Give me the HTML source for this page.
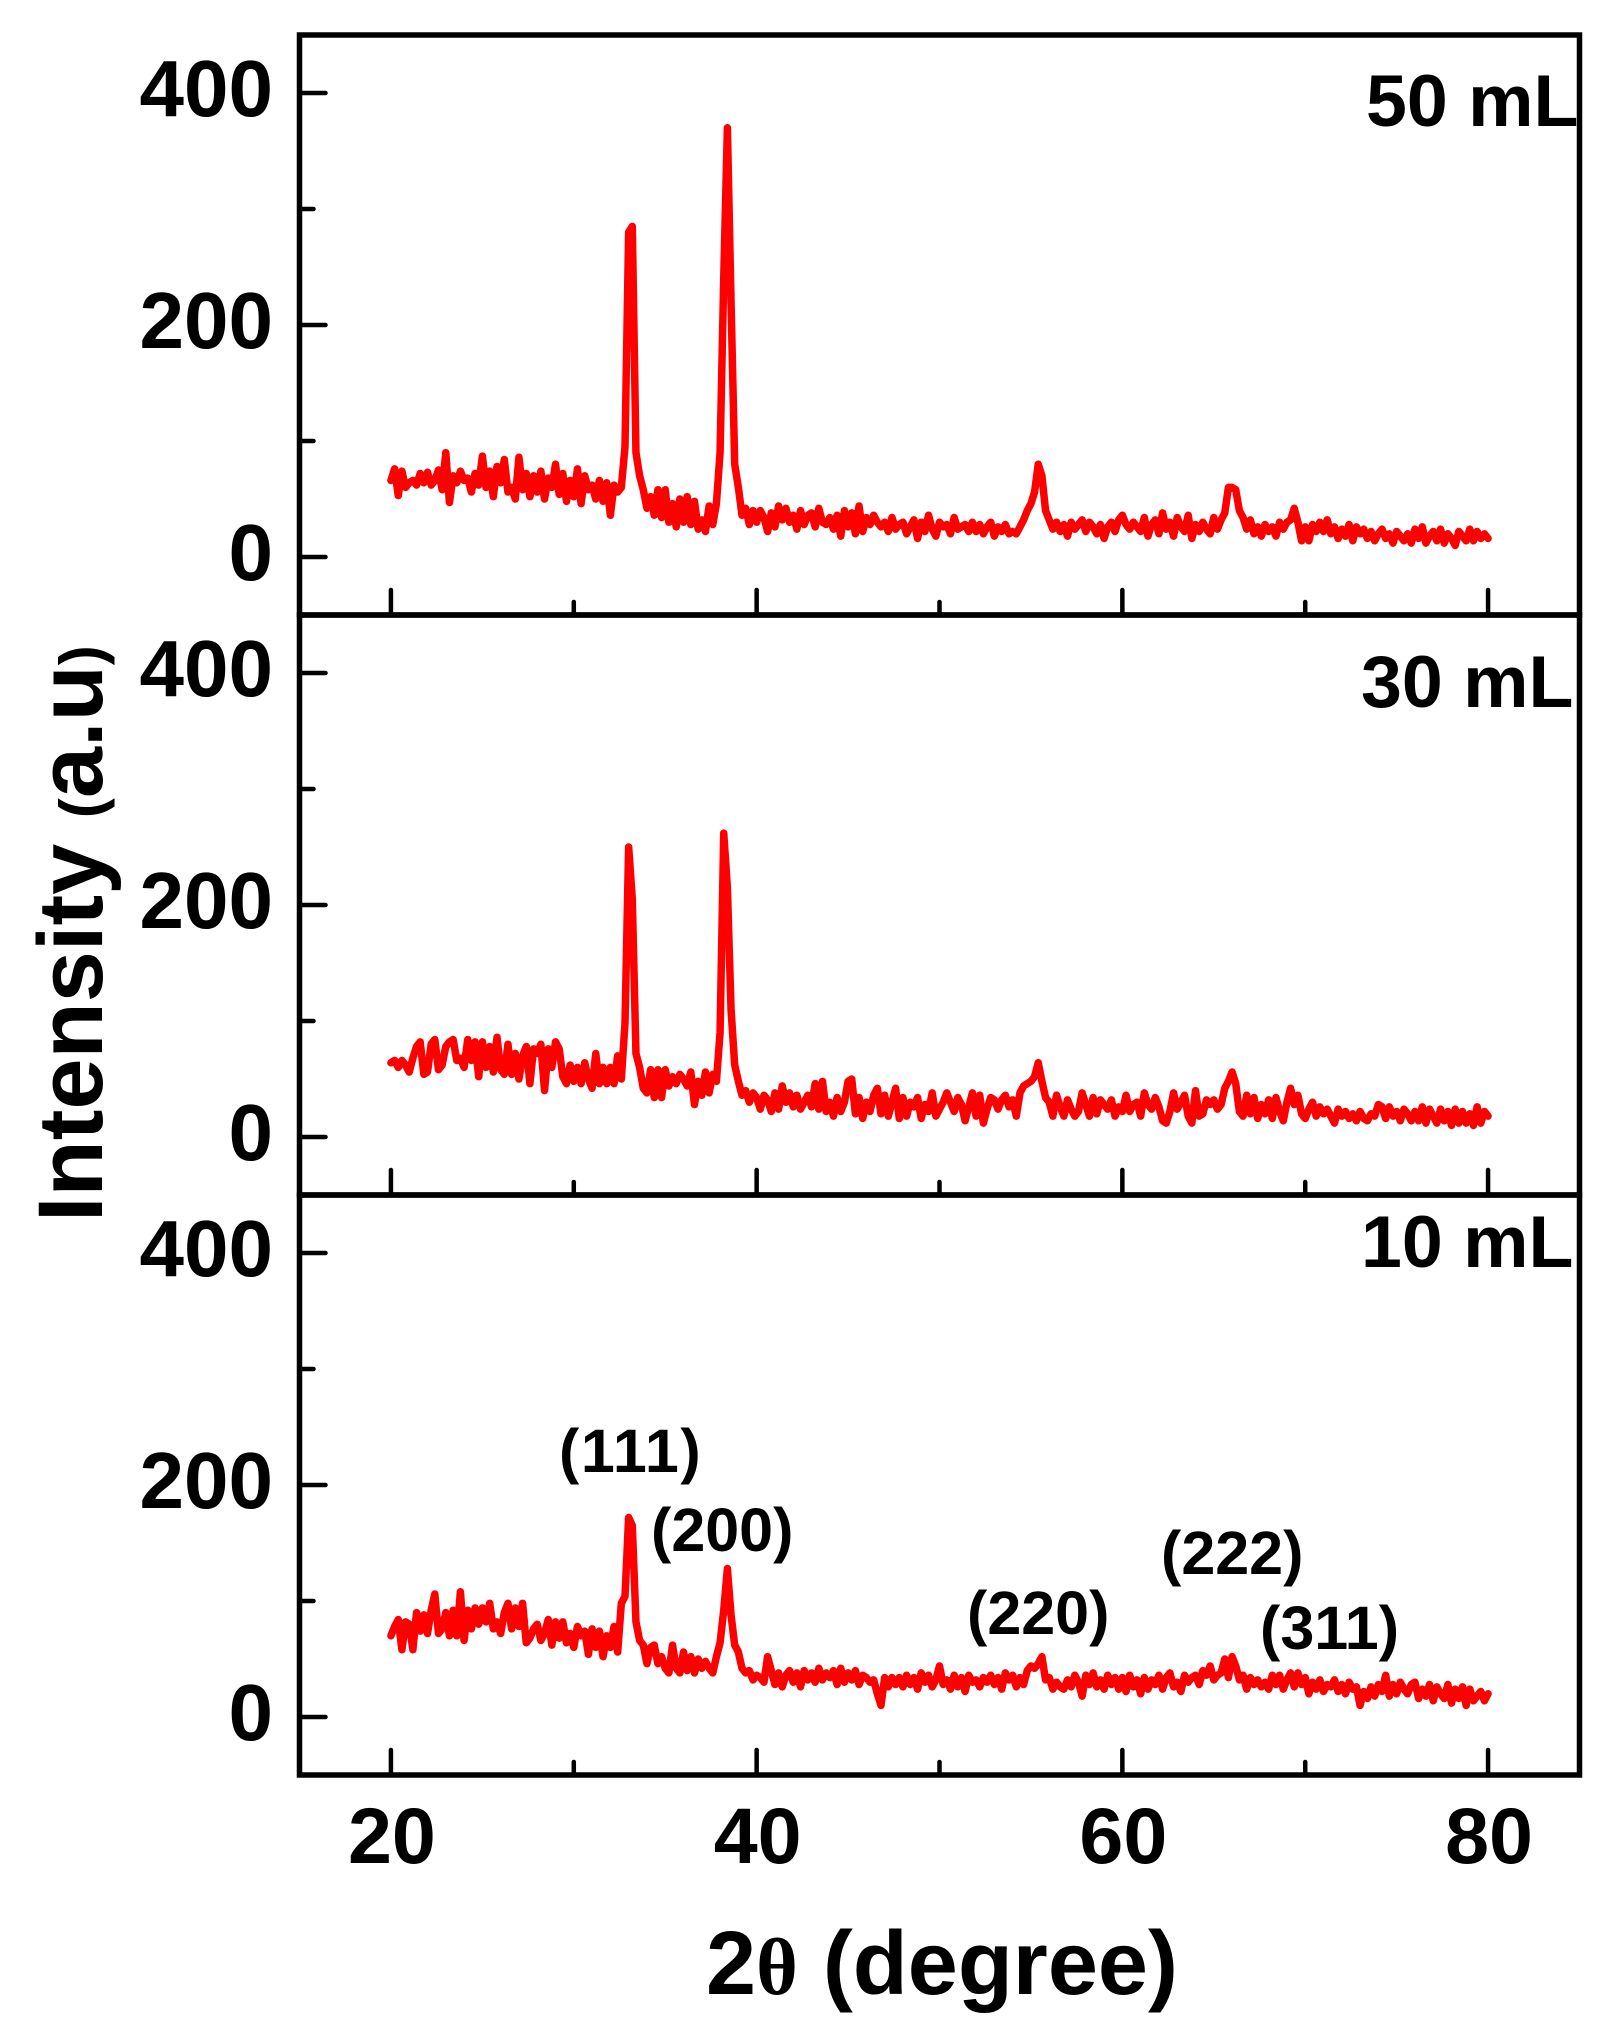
<!DOCTYPE html>
<html lang="en">
<head>
<meta charset="utf-8">
<title>XRD patterns</title>
<style>
html,body{margin:0;padding:0;background:#fff;}
svg{display:block;}
text{font-family:"Liberation Sans",sans-serif;font-weight:bold;fill:#000;}
</style>
</head>
<body>
<svg id="chart" xmlns="http://www.w3.org/2000/svg" width="1611" height="2037" viewBox="0 0 1611 2037">
<rect x="0" y="0" width="1611" height="2037" fill="#fff"/>
<g id="marks"></g>
<g id="axes"></g>
<text x="1366" y="126" font-size="73.5">50 mL</text>
<text x="1361" y="707" font-size="73.5">30 mL</text>
<text x="1361" y="1267" font-size="73.5">10 mL</text>
<text x="559" y="1472" font-size="61" letter-spacing="1.5">(111)</text>
<text x="651" y="1551" font-size="61">(200)</text>
<text x="967" y="1634" font-size="61">(220)</text>
<text x="1161" y="1574" font-size="61">(222)</text>
<text x="1260" y="1649" font-size="61">(311)</text>
<text transform="translate(102,1222) rotate(-90)" font-size="92">Intensity <tspan font-size="60">(</tspan>a.u<tspan font-size="60">)</tspan></text>
<text x="706" y="1994" font-size="90">2<tspan font-family="Liberation Serif" font-weight="bold" font-size="80">θ</tspan> (degree)</text>
</svg>
<script>
// Diffraction angle (degrees) shared by all three scans
const twoTheta = [
20.0,20.2,20.4,20.6,20.8,21.0,21.2,21.4,21.6,21.8,22.0,22.2,22.4,22.6,22.8,23.0,23.2,23.4,23.6,23.8,
24.0,24.2,24.4,24.6,24.8,25.0,25.2,25.4,25.6,25.8,26.0,26.2,26.4,26.6,26.8,27.0,27.2,27.4,27.6,27.8,
28.0,28.2,28.4,28.6,28.8,29.0,29.2,29.4,29.6,29.8,30.0,30.2,30.4,30.6,30.8,31.0,31.2,31.4,31.6,31.8,
32.0,32.2,32.4,32.6,32.8,33.0,33.2,33.4,33.6,33.8,34.0,34.2,34.4,34.6,34.8,35.0,35.2,35.4,35.6,35.8,
36.0,36.2,36.4,36.6,36.8,37.0,37.2,37.4,37.6,37.8,38.0,38.2,38.4,38.6,38.8,39.0,39.2,39.4,39.6,39.8,
40.0,40.2,40.4,40.6,40.8,41.0,41.2,41.4,41.6,41.8,42.0,42.2,42.4,42.6,42.8,43.0,43.2,43.4,43.6,43.8,
44.0,44.2,44.4,44.6,44.8,45.0,45.2,45.4,45.6,45.8,46.0,46.2,46.4,46.6,46.8,47.0,47.2,47.4,47.6,47.8,
48.0,48.2,48.4,48.6,48.8,49.0,49.2,49.4,49.6,49.8,50.0,50.2,50.4,50.6,50.8,51.0,51.2,51.4,51.6,51.8,
52.0,52.2,52.4,52.6,52.8,53.0,53.2,53.4,53.6,53.8,54.0,54.2,54.4,54.6,54.8,55.0,55.2,55.4,55.6,55.8,
56.0,56.2,56.4,56.6,56.8,57.0,57.2,57.4,57.6,57.8,58.0,58.2,58.4,58.6,58.8,59.0,59.2,59.4,59.6,59.8,
60.0,60.2,60.4,60.6,60.8,61.0,61.2,61.4,61.6,61.8,62.0,62.2,62.4,62.6,62.8,63.0,63.2,63.4,63.6,63.8,
64.0,64.2,64.4,64.6,64.8,65.0,65.2,65.4,65.6,65.8,66.0,66.2,66.4,66.6,66.8,67.0,67.2,67.4,67.6,67.8,
68.0,68.2,68.4,68.6,68.8,69.0,69.2,69.4,69.6,69.8,70.0,70.2,70.4,70.6,70.8,71.0,71.2,71.4,71.6,71.8,
72.0,72.2,72.4,72.6,72.8,73.0,73.2,73.4,73.6,73.8,74.0,74.2,74.4,74.6,74.8,75.0,75.2,75.4,75.6,75.8,
76.0,76.2,76.4,76.6,76.8,77.0,77.2,77.4,77.6,77.8,78.0,78.2,78.4,78.6,78.8,79.0,79.2,79.4,79.6,79.8,
80.0];

const intensity50mL = [
66,76,53,74,60,64,66,62,72,64,73,62,66,75,58,90,47,70,64,74,
66,68,56,72,62,87,60,74,52,78,64,84,56,60,50,86,58,72,52,70,
56,74,50,68,60,80,54,72,48,66,52,76,46,70,58,62,50,66,48,64,
36,62,56,60,95,280,285,90,70,58,42,52,36,58,34,58,30,46,26,50,
30,52,28,48,24,32,22,44,28,46,90,240,370,220,80,60,36,42,28,40,
30,40,34,22,38,26,44,32,42,30,36,24,40,28,36,38,26,42,30,28,
34,24,36,18,40,26,38,20,44,22,34,28,36,30,26,30,22,34,24,28,
30,20,26,32,16,30,22,36,24,18,30,26,28,20,34,24,26,28,22,30,
22,28,20,26,30,18,26,22,28,20,22,20,26,32,40,46,56,80,70,40,
32,24,30,22,28,18,30,24,28,32,22,30,26,20,28,16,26,30,22,32,
36,28,24,30,26,22,34,18,28,32,20,38,24,30,18,34,26,22,36,16,
28,22,30,24,20,34,24,32,38,60,60,58,40,34,24,32,20,26,18,28,
22,26,18,30,24,30,32,42,30,14,26,14,28,22,30,22,32,20,26,16,
24,18,28,14,26,20,24,16,22,14,20,24,16,20,12,22,18,14,20,12,
24,16,26,12,18,22,14,24,12,20,16,10,22,18,14,24,14,22,16,20,
16];

const intensity30mL = [
64,66,60,66,62,56,68,78,82,54,56,80,84,58,62,78,82,84,66,68,
60,84,66,82,52,82,60,78,56,86,58,54,80,54,72,50,70,78,46,76,
72,80,40,76,60,82,76,52,46,62,48,60,46,64,50,42,72,46,60,46,
60,46,70,50,98,250,205,72,60,42,38,58,34,58,34,58,44,52,46,54,
50,44,56,28,48,36,56,38,54,48,90,262,215,110,62,48,36,40,30,38,
34,24,36,32,22,38,24,44,30,38,26,36,24,30,36,26,46,24,48,22,
30,18,34,22,30,48,50,20,34,16,30,22,36,42,20,36,18,30,42,16,
34,18,30,26,34,16,28,22,38,18,24,30,38,30,22,34,28,14,26,38,
18,36,12,24,34,32,24,32,36,26,32,18,38,44,46,48,52,64,48,34,
30,18,36,26,18,32,24,18,22,38,28,18,34,20,32,28,24,32,18,26,
22,36,22,28,30,18,38,28,24,34,26,14,12,22,38,24,30,36,18,12,
40,18,20,32,28,32,24,28,42,48,56,46,22,18,36,20,34,16,28,20,
32,16,34,22,14,30,42,28,36,20,16,24,30,18,26,20,24,18,12,24,
18,22,16,20,14,22,16,14,20,18,28,26,16,26,18,22,14,24,20,14,
22,14,26,12,24,18,12,24,14,22,10,24,12,22,12,20,10,26,12,22,
18];

const intensity10mL = [
70,78,84,58,82,80,58,90,74,88,72,92,106,72,76,90,70,92,70,108,
66,92,76,94,80,94,82,98,76,82,72,90,98,76,94,78,98,64,68,76,
80,66,72,84,62,82,68,82,64,72,60,78,70,74,54,76,60,74,52,70,
60,78,56,98,104,172,165,82,66,62,46,60,62,46,52,42,38,62,42,38,
56,40,52,38,50,42,48,42,38,52,64,92,128,88,62,56,42,38,40,32,
36,34,30,52,40,28,38,26,36,40,30,38,26,40,32,38,30,42,32,38,
34,40,28,42,30,38,32,40,28,36,34,30,32,20,10,34,26,34,28,34,
26,36,28,34,24,38,30,36,26,32,44,28,32,24,36,26,34,22,36,30,
32,26,34,30,36,28,34,24,38,32,36,26,34,28,40,44,42,46,52,32,
34,24,30,26,24,32,26,36,30,18,36,28,38,26,32,24,36,28,34,24,
34,22,36,26,32,20,34,24,32,28,36,24,34,38,26,30,22,36,30,34,
36,28,40,36,44,32,36,38,50,34,52,44,32,36,24,34,28,32,26,30,
24,36,28,36,24,32,38,26,38,28,34,20,30,24,32,22,28,26,32,22,
28,20,30,24,26,10,22,16,26,18,28,22,36,18,28,20,30,24,20,28,
30,16,24,18,28,14,26,20,16,28,12,24,16,26,10,24,14,18,22,14,
20];

const yTickValues = [0, 100, 200, 300, 400];
const yTickLabels = ["0", "", "200", "", "400"];
const xTickValues = [20, 30, 40, 50, 60, 70, 80];
const xTickLabels = ["20", "", "40", "", "60", "", "80"];

const NS = "http://www.w3.org/2000/svg";
const plotLeft = 299.5, plotRight = 1579.5, plotTop = 35, panelHeight = 580;
const xMin = 15, xMax = 85, yMin = -50, yMax = 450;

function xScale(v) { return plotLeft + (v - xMin) / (xMax - xMin) * (plotRight - plotLeft); }
function yScale(panelIndex, v) {
  const bottom = plotTop + panelHeight * (panelIndex + 1);
  return bottom - (v - yMin) / (yMax - yMin) * panelHeight;
}
function make(tag, attrs, parent) {
  const el = document.createElementNS(NS, tag);
  for (const k in attrs) el.setAttribute(k, attrs[k]);
  parent.appendChild(el);
  return el;
}

const axesGroup = document.getElementById("axes");
const marksGroup = document.getElementById("marks");

// Series
function drawSeries(panelIndex, values, name) {
  let d = "";
  for (let i = 0; i < values.length; i++) {
    d += (i ? "L" : "M") + xScale(twoTheta[i]).toFixed(2) + " " + yScale(panelIndex, values[i]).toFixed(2);
  }
  const line = make("path", {d: d, fill: "none", stroke: "#ff0000", "stroke-width": 7.5, "stroke-linejoin": "round", "stroke-linecap": "round"}, marksGroup);
  
  
}
drawSeries(0, intensity50mL, "series-50ml");
drawSeries(1, intensity30mL, "series-30ml");
drawSeries(2, intensity10mL, "series-10ml");

// Panel frames
for (let p = 0; p < 3; p++) {
  const frame = make("rect", {x: plotLeft, y: plotTop + p * panelHeight, width: plotRight - plotLeft, height: panelHeight, fill: "none", stroke: "#000", "stroke-width": 5.5}, axesGroup);
  
  

  // Y ticks
  yTickValues.forEach(function (v, i) {
    const y = yScale(p, v);
    const major = yTickLabels[i] !== "";
    const tick = make("line", {x1: plotLeft, x2: plotLeft + (major ? 26 : 14), y1: y, y2: y, stroke: "#000", "stroke-width": 4.5, "stroke-linecap": "round"}, axesGroup);
    
    
    if (major) {
      const label = make("text", {x: 273, y: y + 23, "font-size": 80, "text-anchor": "end"}, axesGroup);
      label.textContent = yTickLabels[i];
      
      
    }
  });

  // X ticks
  const panelBottom = plotTop + (p + 1) * panelHeight;
  xTickValues.forEach(function (v, i) {
    const x = xScale(v);
    const major = xTickLabels[i] !== "";
    const tick = make("line", {x1: x, x2: x, y1: panelBottom, y2: panelBottom - (major ? 25 : 13), stroke: "#000", "stroke-width": 4.5, "stroke-linecap": "round"}, axesGroup);
    
    
    if (major && p === 2) {
      const label = make("text", {x: x + 1, y: 1863, "font-size": 79, "text-anchor": "middle"}, axesGroup);
      label.textContent = xTickLabels[i];
      
      
    }
  });
}
</script>
</body>
</html>
